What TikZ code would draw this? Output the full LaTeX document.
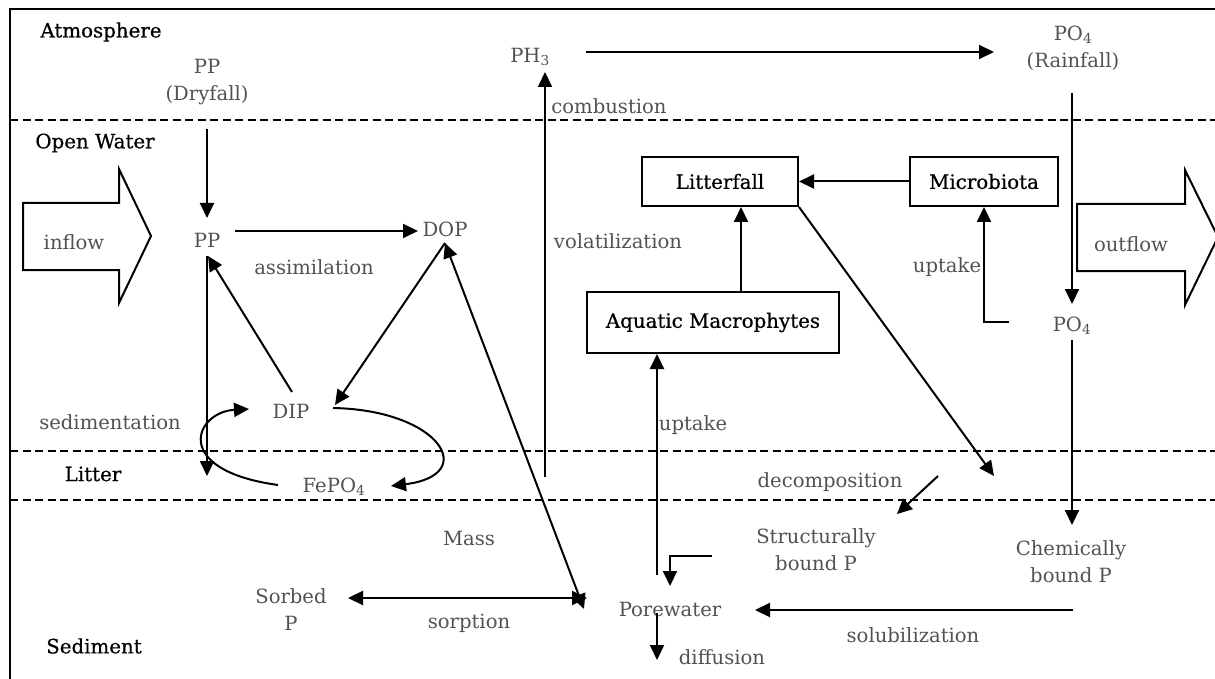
\documentclass[tikz,border=0pt]{standalone}
\usepackage{fontspec}
\setmainfont{DejaVu Serif}
\newfontfamily\zonefont[FakeBold=0.6]{DejaVu Serif}
\usetikzlibrary{arrows.meta}
\begin{document}
\begin{tikzpicture}[x=1pt,y=-1pt,
  line width=2pt,
  >={Triangle[length=15pt,width=14pt]},
  zone/.style={font=\zonefont\fontsize{19.8}{21}\selectfont, text=black, inner sep=0pt},
  lbl/.style={font=\fontsize{19.6}{27}\selectfont, text=black!68, inner sep=0pt, align=center},
  pool/.style={draw, line width=2pt, font=\zonefont\fontsize{19.8}{21}\selectfont, inner sep=0pt},
  sep/.style={dash pattern=on 8pt off 4.5pt, line width=1.6pt},
  flow/.style={draw, line width=2pt, fill=white},
]
\useasboundingbox (0,0) rectangle (1215,679);
\begin{scope}
\clip (0,0) rectangle (1215,679);
% frame
\draw (10,680) -- (10,9) -- (1216,9);
% layer separators
\draw[sep] (10,120) -- (1215,120);
\draw[sep] (10,451) -- (1215,451);
\draw[sep] (10,500) -- (1215,500);

% block arrows
\draw[flow] (23,203) -- (119,203) -- (119,169) -- (151,236) -- (119,303) -- (119,270) -- (23,270) -- cycle;
\draw[flow] (1077,204) -- (1185,204) -- (1185,170) -- (1218,237) -- (1185,305) -- (1185,271) -- (1077,271) -- cycle;

% zone labels
\node[zone] (atm) at (101,32) {Atmosphere};
\node[zone] (ow) at (95,143) {Open Water};
\node[zone] (lit) at (93,474) {Litter};
\node[zone] (sed) at (94,646) {Sediment};

% pools
\node[lbl] (ppdry) at (207,82) {PP\\(Dryfall)};
\node[lbl] (ph3) at (530,57) {PH\textsubscript{3}};
\node[lbl] (po4rain) at (1073,48) {PO\textsubscript{4}\\(Rainfall)};
\node[lbl] (pp) at (207,240) {PP};
\node[lbl] (dop) at (445,229) {DOP};
\node[lbl] (dip) at (291,411) {DIP};
\node[lbl] (fepo4) at (334,487) {FePO\textsubscript{4}};
\node[lbl] (po4) at (1072,326) {PO\textsubscript{4}};
\node[lbl] (sorbed) at (291,610) {Sorbed\\P};
\node[lbl] (pore) at (670,609) {Porewater};
\node[lbl] (struct) at (816,550) {Structurally\\bound P};
\node[lbl] (chem) at (1071,562) {Chemically\\bound P};

\node[pool, minimum width=156pt, minimum height=49pt] (litf) at (720,181.5) {Litterfall};
\node[pool, minimum width=148pt, minimum height=49pt] (mic) at (984,181.5) {Microbiota};
\node[pool, minimum width=252pt, minimum height=61pt] (aq) at (713,322.5) {Aquatic Macrophytes};

% process labels
\node[lbl] (lcomb) at (609,106) {combustion};
\node[lbl] (linf) at (74,242) {inflow};
\node[lbl] (lout) at (1131,244) {outflow};
\node[lbl] (lassim) at (314,267) {assimilation};
\node[lbl] (lvol) at (618,241) {volatilization};
\node[lbl] (lupt1) at (947,267) {uptake};
\node[lbl] (lsed) at (110,422) {sedimentation};
\node[lbl] (lupt2) at (693,425) {uptake};
\node[lbl] (ldec) at (830,482) {decomposition};
\node[lbl] (lmass) at (469,538) {Mass};
\node[lbl] (lsorp) at (469,623) {sorption};
\node[lbl] (lsolu) at (913,635) {solubilization};
\node[lbl] (ldiff) at (722,657) {diffusion};

% connector end points
\coordinate (ph3e) at (586,52);
\coordinate (po4w) at (994,52);
\coordinate (volb) at (545,477);
\coordinate (volt) at (545,72);
\coordinate (dryb) at (207,129);
\coordinate (ppt) at (207,218);
\coordinate (ppe) at (235,231);
\coordinate (dopw) at (418,231);
\coordinate (dipt) at (292,392);
\coordinate (ppb) at (208,256);
\coordinate (sedt) at (207,256);
\coordinate (sedb) at (207,476);
\coordinate (dopb) at (445,243);
\coordinate (dipne) at (335,405);
\coordinate (porenw) at (584,609);
\coordinate (sorbe) at (348,598);
\coordinate (porew) at (587,598);
\coordinate (few) at (278,485);
\coordinate (dipw) at (249,409);
\coordinate (dipe) at (333,408);
\coordinate (fee) at (391,486);
\coordinate (litend) at (994,476);
\coordinate (aqlit) at (741,292);
\coordinate (po4w2) at (1009,322);
\coordinate (raint) at (1072,93);
\coordinate (rainb) at (1072,304);
\coordinate (po4b) at (1072,340);
\coordinate (chemt) at (1072,525);
\coordinate (decs) at (938,476);
\coordinate (dece) at (897,514);
\coordinate (upb) at (657,575);
\coordinate (structw) at (712,556);
\coordinate (poret) at (670,586);
\coordinate (diffs) at (657,613);
\coordinate (diffe) at (657,660);
\coordinate (solus) at (1073,610);
\coordinate (solue) at (755,610);

% connectors
\draw[->] (ph3e) -- (po4w);
\draw[->] (volb) -- (volt);
\draw[->] (dryb) -- (ppt);
\draw[->] (ppe) -- (dopw);
\draw[->] (dipt) -- (ppb);
\draw[->] (sedt) -- (sedb);
\draw[->] (dopb) -- (dipne);
\draw[<->] (dopb) -- (porenw);
\draw[<->] (sorbe) -- (porew);
\draw[->] (few) .. controls (170,470) and (195,412) .. (dipw);
\draw[->] (dipe) .. controls (440,410) and (480,475) .. (fee);
\draw[->] (litf.south east) -- (litend);
\draw[->] (aqlit) -- (aqlit |- litf.south);
\draw[->] (mic.west) -- (litf.east);
\draw[->] (po4w2) -| (mic.south);
\draw[->] (raint) -- (rainb);
\draw[->] (po4b) -- (chemt);
\draw[->] (decs) -- (dece);
\draw[->] (upb) -- (upb |- aq.south);
\draw[->] (structw) -| (poret);
\draw[->] (diffs) -- (diffe);
\draw[->] (solus) -- (solue);
\end{scope}
\end{tikzpicture}
\end{document}
